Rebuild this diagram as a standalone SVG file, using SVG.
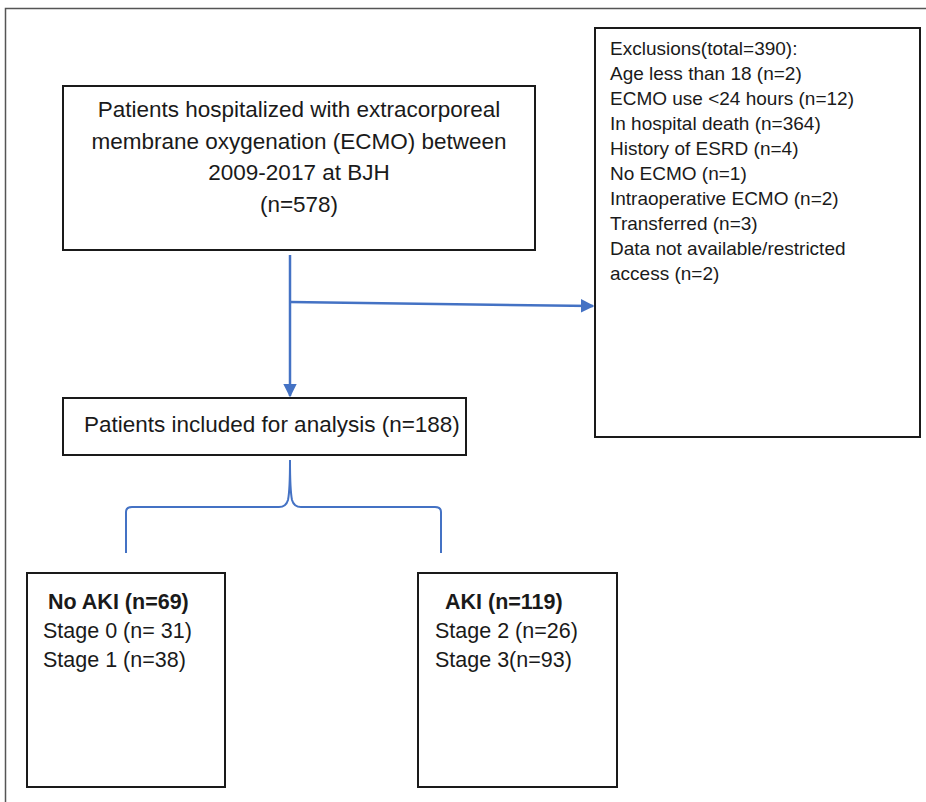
<svg xmlns="http://www.w3.org/2000/svg" width="926" height="802" viewBox="0 0 926 802">
<style>
.box{fill:#fff;stroke:#1a1a1a;stroke-width:2}
.t{font-family:"Liberation Sans",Arial,sans-serif;fill:#1a1a1a}
.c{stroke:#4472c4;stroke-width:2.5;fill:none}
</style>
<defs>
<marker id="ah" viewBox="0 0 10 10" refX="9" refY="5" markerWidth="5.5" markerHeight="5.5" orient="auto" markerUnits="strokeWidth">
<path d="M0,0 L10,5 L0,10 z" fill="#4472c4"/>
</marker>
</defs>
<rect width="926" height="802" fill="#fff"/>
<path d="M5.5,802 V8.5 H926" fill="none" stroke="#555" stroke-width="1.5"/>
<g id="connectors">
<path class="c" d="M290,255 V396" marker-end="url(#ah)"/>
<path class="c" d="M290,302 L593,306" marker-end="url(#ah)"/>
<path class="c" style="stroke-width:2" d="M126,553 V512 Q126,507 132,507 H279 Q286,507 288,500 Q290,490 290,460 Q290,490 292,500 Q294,507 301,507 H435 Q441,507 441,512 V553"/>
</g>
<g id="start">
<rect class="box" x="63" y="86" width="472" height="164"/>
<text class="t" font-size="22.5" text-anchor="middle"><tspan x="299" y="117">Patients hospitalized with extracorporeal</tspan><tspan x="299" y="149">membrane oxygenation (ECMO) between</tspan><tspan x="299" y="180">2009-2017 at BJH</tspan><tspan x="299" y="212">(n=578)</tspan></text>
</g>
<g id="exclusions">
<rect class="box" x="595" y="28" width="325" height="409"/>
<text class="t" font-size="19"><tspan x="610" y="55">Exclusions(total=390):</tspan><tspan x="610" y="80">Age less than 18 (n=2)</tspan><tspan x="610" y="105">ECMO use &lt;24 hours (n=12)</tspan><tspan x="610" y="130">In hospital  death (n=364)</tspan><tspan x="610" y="155">History of ESRD (n=4)</tspan><tspan x="610" y="180">No ECMO (n=1)</tspan><tspan x="610" y="205">Intraoperative  ECMO (n=2)</tspan><tspan x="610" y="230">Transferred (n=3)</tspan><tspan x="610" y="255">Data not available/restricted</tspan><tspan x="610" y="280">access (n=2)</tspan></text>
</g>
<g id="included">
<rect class="box" x="63" y="398" width="403" height="57"/>
<text class="t" font-size="22.5" x="84" y="432">Patients included for analysis (n=188)</text>
</g>
<g id="noaki">
<rect class="box" x="27" y="573" width="198" height="214"/>
<text class="t" font-size="21.5"><tspan x="48" y="609" font-weight="bold">No AKI (n=69)</tspan><tspan x="43" y="638">Stage 0 (n= 31)</tspan><tspan x="43" y="667">Stage 1 (n=38)</tspan></text>
</g>
<g id="aki">
<rect class="box" x="418" y="573" width="199" height="214"/>
<text class="t" font-size="21.5"><tspan x="445" y="609" font-weight="bold">AKI (n=119)</tspan><tspan x="435" y="638">Stage 2 (n=26)</tspan><tspan x="435" y="667">Stage 3(n=93)</tspan></text>
</g>
</svg>
